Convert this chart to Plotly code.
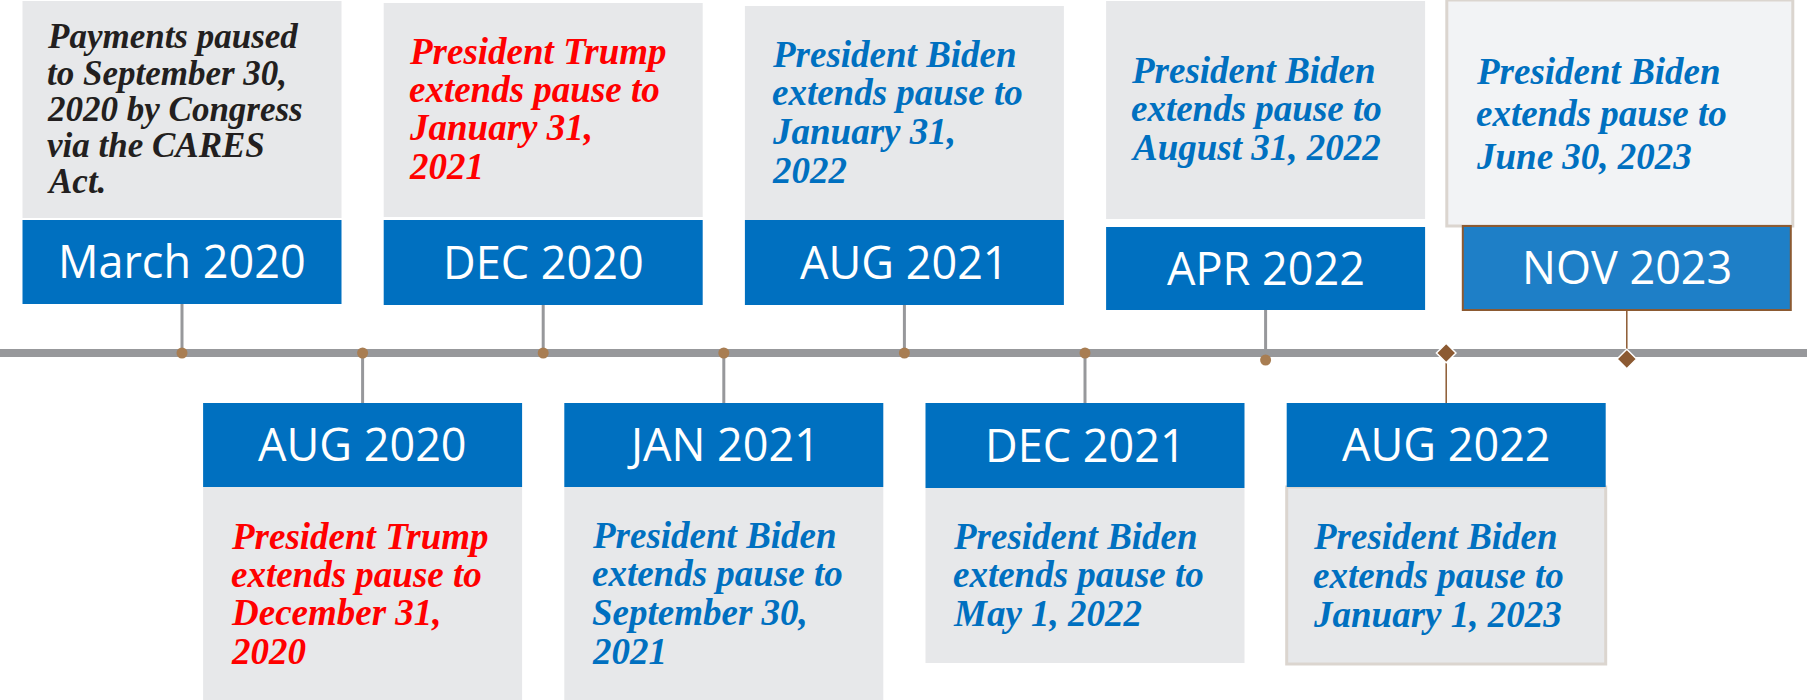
import plotly.graph_objects as go

# ---------------- data ----------------
months = ["March 2020", "AUG 2020", "DEC 2020", "JAN 2021", "AUG 2021",
          "DEC 2021", "APR 2022", "AUG 2022", "NOV 2023"]
descriptions = [
    ["Payments paused", "to September 30,", "2020 by Congress", "via the CARES", "Act."],
    ["President Trump", "extends pause to", "December 31,", "2020"],
    ["President Trump", "extends pause to", "January 31,", "2021"],
    ["President Biden", "extends pause to", "September 30,", "2021"],
    ["President Biden", "extends pause to", "January 31,", "2022"],
    ["President Biden", "extends pause to", "May 1, 2022"],
    ["President Biden", "extends pause to", "August 31, 2022"],
    ["President Biden", "extends pause to", "January 1, 2023"],
    ["President Biden", "extends pause to", "June 30, 2023"],
]
actors = ["Congress", "Trump", "Trump", "Biden", "Biden", "Biden", "Biden", "Biden", "Biden"]

# ---------------- styles / layout ----------------
W, H = 1807, 700
X0, STEP = 182.0, 180.6          # pixel position of first event and spacing
def px(dx):                      # pixel offset -> x units
    return dx / STEP

actor_color = {"Congress": "#231f20", "Trump": "#ff0000", "Biden": "#0070c0"}
BLUE = "#0070c0"
GRAY = "#e7e8ea"
LINE_GRAY = "#97989b"
BROWN_DOT = "#a87d52"
BROWN = "#8c5a32"
LINE_Y = 353
TEXT_NUDGE = -3

# per-event geometry (pixels): gray box (top,bottom), header (top,bottom),
# marker y, body first baseline, line spacing, text left offset, font size
geom = [
    dict(g=(1, 218), b=(220, 304), my=353, bl=48, ls=36.2, tx=-134, fs=35),
    dict(g=(487, 700), b=(403, 487), my=353, bl=548, ls=38.3, tx=-131, fs=37),
    dict(g=(3, 217), b=(220, 305), my=353, bl=63, ls=38.3, tx=-133, fs=37),
    dict(g=(487, 700), b=(403, 487), my=353, bl=547, ls=38.6, tx=-131, fs=37),
    dict(g=(6, 220), b=(220, 305), my=353, bl=66, ls=38.6, tx=-131, fs=37),
    dict(g=(488, 663), b=(403, 488), my=353, bl=548, ls=38.5, tx=-131, fs=37),
    dict(g=(1, 219), b=(227, 310), my=360, bl=82, ls=38.5, tx=-134, fs=37),
    dict(g=(487, 664), b=(403, 487), my=353, bl=548, ls=39.0, tx=-132, fs=37,
         gborder=True, diamond=True),
    dict(g=(0, 226), b=(226, 310), my=359, bl=83, ls=42.5, tx=-150, fs=37,
         gborder=True, bborder=True, diamond=True, gx=(-180, 166), bx=(-164, 164)),
]

shapes = []
annotations = []

# timeline
shapes.append(dict(type="line", xref="x", yref="y", x0=px(-X0), x1=px(W - X0),
                   y0=LINE_Y, y1=LINE_Y, line=dict(color=LINE_GRAY, width=8), layer="below"))

dot_x, dot_y, dia_x, dia_y = [], [], [], []
for i, (m, desc, actor) in enumerate(zip(months, descriptions, actors)):
    g = geom[i]
    top = (i % 2 == 0)
    gx = g.get("gx", (-159.5, 159.5))
    bx = g.get("bx", (-159.5, 159.5))
    # connector
    if top:
        c0, c1 = g["b"][1], g["my"]
    else:
        c0, c1 = LINE_Y, g["b"][0]
    if g.get("diamond"):
        shapes.append(dict(type="line", xref="x", yref="y", x0=i, x1=i, y0=c0, y1=c1,
                           line=dict(color=BROWN, width=1.5), layer="below"))
    else:
        shapes.append(dict(type="line", xref="x", yref="y", x0=i, x1=i, y0=c0, y1=c1,
                           line=dict(color=LINE_GRAY, width=3), layer="below"))
    # gray box
    gfill = "#f2f3f5" if i == 8 else GRAY
    shapes.append(dict(type="rect", xref="x", yref="y",
                       x0=i + px(gx[0]), x1=i + px(gx[1]), y0=g["g"][0], y1=g["g"][1],
                       fillcolor=gfill,
                       line=dict(color="#dbd5cf", width=3) if g.get("gborder") else dict(width=0),
                       layer="below"))
    # header box
    bfill = "#1e7fc7" if g.get("bborder") else BLUE
    shapes.append(dict(type="rect", xref="x", yref="y",
                       x0=i + px(bx[0]), x1=i + px(bx[1]), y0=g["b"][0], y1=g["b"][1],
                       fillcolor=bfill,
                       line=dict(color=BROWN, width=2) if g.get("bborder") else dict(width=0),
                       layer="below"))
    # header label
    annotations.append(dict(x=i, y=(g["b"][0] + g["b"][1]) / 2 - 1.5, xref="x", yref="y",
                            text=m, showarrow=False, xanchor="center", yanchor="middle",
                            font=dict(family="Open Sans", size=45, color="white")))
    # description lines
    for k, line in enumerate(desc):
        base = g["bl"] + k * g["ls"]
        annotations.append(dict(x=i + px(g["tx"] + TEXT_NUDGE), y=base - 0.315 * g["fs"],
                                xref="x", yref="y",
                                text="<b><i>" + line + "</i></b>", showarrow=False,
                                xanchor="left", yanchor="middle",
                                font=dict(family="Liberation Serif", size=g["fs"],
                                          color=actor_color[actor])))
    if g.get("diamond"):
        dia_x.append(i); dia_y.append(g["my"])
    else:
        dot_x.append(i); dot_y.append(g["my"])

fig = go.Figure()
fig.add_trace(go.Scatter(x=dot_x, y=dot_y, mode="markers", hoverinfo="skip",
                         marker=dict(size=11, color=BROWN_DOT, line=dict(width=0))))
fig.add_trace(go.Scatter(x=dia_x, y=dia_y, mode="markers", hoverinfo="skip",
                         marker=dict(symbol="diamond", size=15, color=BROWN,
                                     line=dict(width=1.5, color="white"))))

fig.update_layout(
    width=W, height=H, margin=dict(l=0, r=0, t=0, b=0),
    paper_bgcolor="white", plot_bgcolor="white", showlegend=False,
    shapes=shapes, annotations=annotations,
    xaxis=dict(range=[px(-X0), px(W - X0)], visible=False, fixedrange=True),
    yaxis=dict(range=[H, 0], visible=False, fixedrange=True),
)
fig.write_html("out.html", config={"displayModeBar": False},
               post_script="document.body.style.margin='0';")
